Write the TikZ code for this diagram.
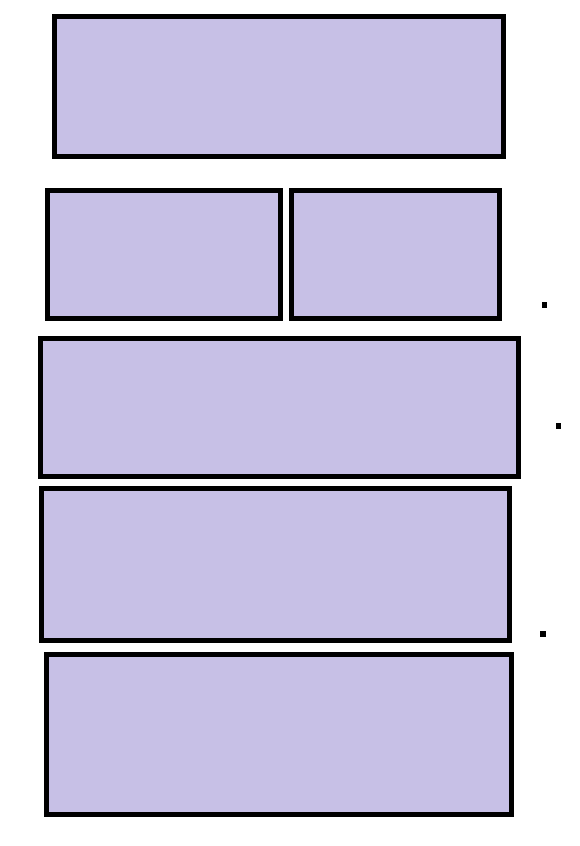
\documentclass[tikz,border=0pt]{standalone}
\usetikzlibrary{positioning}
\definecolor{boxfill}{RGB}{199,192,230}
\begin{document}
\begin{tikzpicture}[x=1pt,y=-1pt,
  panel/.style={draw=black,line width=5pt,fill=boxfill,rectangle,inner sep=0pt,line join=miter},
  marker/.style={fill=black,rectangle,inner sep=0pt,minimum size=5.5pt}]
\useasboundingbox (0,0) rectangle (580,846);
\node[panel,minimum width=449pt,minimum height=140pt] (b1) at (279,86.5) {};
\node[panel,minimum width=233pt,minimum height=128pt] (b2) at (164,254.5) {};
\node[panel,minimum width=208pt,minimum height=128pt] (b3) at (395.5,254.5) {};
\node[panel,minimum width=478pt,minimum height=138pt] (b4) at (279.5,407.5) {};
\node[panel,minimum width=468pt,minimum height=152pt] (b5) at (275.5,564.5) {};
\node[panel,minimum width=465pt,minimum height=160pt] (b6) at (279,734.5) {};
\node[marker] (d1) at (544.5,305) {};
\node[marker] (d2) at (558.5,426) {};
\node[marker] (d3) at (543,634) {};
\end{tikzpicture}
\end{document}
